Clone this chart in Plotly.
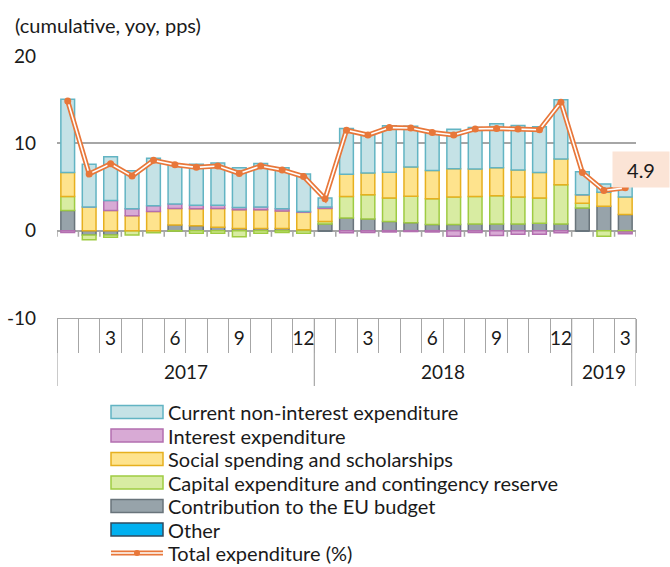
import plotly.graph_objects as go

# ---------------- data ----------------
years = ["2017"] * 12 + ["2018"] * 12 + ["2019"] * 3
months = list(range(1, 13)) + list(range(1, 13)) + [1, 2, 3]

current = [8.4, 4.9, 5.0, 4.35, 5.45, 4.5, 4.7, 4.85, 4.55, 5.0, 4.7, 4.3, 1.05,
           5.25, 4.55, 5.3, 4.65, 4.35, 4.5, 4.75, 5.05, 5.1, 5.25, 6.8, 2.65, 0.95, 1.5]
interest = [-0.2, 0.0, 1.15, 0.8, 0.65, 0.5, 0.4, 0.35, 0.25, 0.3, 0.25, 0.1, 0.15,
            -0.25, -0.2, -0.15, -0.1, -0.15, -0.65, -0.2, -0.55, -0.4, -0.4, -0.25, 0.0, 0.0, -0.2]
social = [2.75, 2.7, 2.3, 1.7, 2.2, 1.9, 1.95, 2.15, 2.15, 2.15, 2.0, 2.0, 1.5,
          2.55, 2.5, 2.95, 3.35, 3.25, 3.25, 3.15, 3.2, 3.1, 2.9, 2.95, 0.95, 1.6, 2.0]
capital = [1.6, -0.55, -0.25, -0.5, -0.25, -0.05, -0.3, -0.3, -0.7, -0.3, -0.2, -0.3, 0.3,
           2.45, 2.75, 2.7, 3.05, 2.95, 3.15, 3.15, 3.25, 3.1, 2.9, 4.5, 0.55, -0.65, -0.15]
eu_budget = [2.3, -0.5, -0.5, 0.0, 0.0, 0.65, 0.55, 0.4, 0.25, 0.25, 0.25, 0.1, 0.75,
             1.45, 1.35, 1.05, 0.9, 0.7, 0.7, 0.75, 0.75, 0.75, 0.85, 0.75, 2.6, 2.8, 1.85]
other = [0.0] * 27
total = [14.85, 6.5, 7.65, 6.25, 8.05, 7.55, 7.25, 7.4, 6.55, 7.4, 6.95, 6.2, 3.65,
         11.5, 10.95, 11.8, 11.75, 11.25, 10.95, 11.65, 11.7, 11.65, 11.55, 14.7, 6.65, 4.6, 4.9]

shown_months = {3, 6, 9, 12}
last_label = "4.9"
y_ticks = [-10, 0, 10, 20]
y_ticktext = ["-10", "0", "10", "20"]

# ---------------- figure ----------------
FONT = "Lato"
TXT = "#1a1a1a"
FS = 19
FS_TXT = 20
x = list(range(len(months)))

# layout geometry (pixels)
W, H = 670, 567
ML, MR, MT, MB = 57, 34, 56, 249
PW, PH = W - ML - MR, H - MT - MB


def px(xp):
    return (xp - ML) / PW


def py(yp):
    return (H - MB - yp) / PH


series = [
    ("Other", other, "#00b0f0", "#2f4b60"),
    ("Contribution to the EU budget", eu_budget, "#97a3aa", "#69747b"),
    ("Capital expenditure and contingency reserve", capital, "#d8eca2", "#9fcb42"),
    ("Social spending and scholarships", social, "#fee38d", "#e6b01f"),
    ("Interest expenditure", interest, "#d8aad5", "#b36fb0"),
    ("Current non-interest expenditure", current, "#c5e2e6", "#62b4c3"),
]
LINE_COL = "#e8773a"

fig = go.Figure()
for name, vals, fill, line in series:
    fig.add_trace(go.Bar(
        x=x, y=vals, name=name,
        marker=dict(color=fill, line=dict(color=line, width=1.5)),
    ))

fig.add_trace(go.Scatter(
    x=x, y=total, name="Total expenditure (%)", mode="lines",
    line=dict(color=LINE_COL, width=5),
))
fig.add_trace(go.Scatter(
    x=x, y=total, mode="lines", hoverinfo="skip",
    line=dict(color="white", width=1.6),
))
fig.add_trace(go.Scatter(
    x=x, y=total, mode="markers", hoverinfo="skip",
    marker=dict(color=LINE_COL, size=7),
))

n = len(x)
shapes = []
# small tick marks under the zero line at category boundaries
for b in range(n + 1):
    shapes.append(dict(type="line", xref="x", yref="y", x0=b - 0.5, x1=b - 0.5,
                       y0=0, y1=-0.7, line=dict(color="#a6a6a6", width=1.5)))
# year dividers in the category table
year_bounds = [-0.5]
for i in range(1, n):
    if years[i] != years[i - 1]:
        year_bounds.append(i - 0.5)
year_bounds.append(n - 0.5)
for b in year_bounds:
    shapes.append(dict(type="line", xref="x", yref="paper", x0=b, x1=b,
                       y0=0, y1=py(386), line=dict(color="#a6a6a6", width=1.2)))

annotations = []
for k in range(len(year_bounds) - 1):
    annotations.append(dict(x=(year_bounds[k] + year_bounds[k + 1]) / 2, y=py(371),
                            xref="x", yref="paper", yanchor="middle",
                            text=years[int(year_bounds[k] + 0.5)],
                            showarrow=False, font=dict(family=FONT, size=FS, color=TXT)))
annotations.append(dict(x=px(13), y=py(25), xref="paper", yref="paper", xanchor="left",
                        yanchor="middle", text="(cumulative, yoy, pps)",
                        showarrow=False, font=dict(family=FONT, size=FS_TXT, color=TXT)))
annotations.append(dict(x=px(640.5), y=py(169), xref="paper", yref="paper",
                        xanchor="center", yanchor="middle",
                        text=last_label, showarrow=False, bgcolor="#fbe4d6",
                        width=54, height=33, font=dict(family=FONT, size=20, color=TXT)))

# manual legend (wide swatches like the original)
legend_items = [(s[0], s[2], s[3]) for s in reversed(series)]
row_y = [412 + 23.5 * k for k in range(len(legend_items) + 1)]
for k, (name, fill, line) in enumerate(legend_items):
    yc = row_y[k]
    shapes.append(dict(type="rect", xref="paper", yref="paper",
                       x0=px(111), x1=px(163), y0=py(yc - 6.5), y1=py(yc + 6.5),
                       fillcolor=fill, line=dict(color=line, width=1.5)))
    annotations.append(dict(x=px(166), y=py(yc), xref="paper", yref="paper",
                            xanchor="left", yanchor="middle", text=name, showarrow=False,
                            font=dict(family=FONT, size=FS_TXT, color=TXT)))
yc = row_y[-1]
shapes.append(dict(type="line", xref="paper", yref="paper", x0=px(111), x1=px(163),
                   y0=py(yc), y1=py(yc), line=dict(color=LINE_COL, width=5)))
shapes.append(dict(type="line", xref="paper", yref="paper", x0=px(111), x1=px(163),
                   y0=py(yc), y1=py(yc), line=dict(color="white", width=1.6)))
shapes.append(dict(type="circle", xref="paper", yref="paper", x0=px(134), x1=px(140),
                   y0=py(yc + 3), y1=py(yc - 3), fillcolor=LINE_COL,
                   line=dict(color=LINE_COL, width=0)))
annotations.append(dict(x=px(166), y=py(yc), xref="paper", yref="paper",
                        xanchor="left", yanchor="middle", text="Total expenditure (%)",
                        showarrow=False, font=dict(family=FONT, size=FS_TXT, color=TXT)))

tickvals = [i for i in x if months[i] in shown_months]
ticktext = [str(months[i]) for i in tickvals]

fig.update_layout(
    width=W, height=H,
    margin=dict(l=ML, r=MR, t=MT, b=MB, autoexpand=False),
    paper_bgcolor="white", plot_bgcolor="white",
    barmode="relative", bargap=0.36,
    font=dict(family=FONT, size=FS, color=TXT),
    showlegend=False,
    xaxis=dict(range=[-0.5, n - 0.5], showgrid=False, zeroline=False,
               showline=True, linecolor="#a6a6a6", linewidth=1.2,
               tickmode="array", tickvals=tickvals, ticktext=ticktext, ticks="",
               ticklabelstandoff=3,
               minor=dict(ticks="outside", ticklen=34, tick0=-0.5, dtick=1,
                          tickcolor="#a6a6a6", tickwidth=1.2, showgrid=False),
               tickfont=dict(family=FONT, size=FS, color=TXT), fixedrange=True),
    yaxis=dict(range=[-10, 20], tickmode="array", tickvals=y_ticks, ticktext=y_ticktext,
               showgrid=True, gridcolor="#a6a6a6", gridwidth=1.5, zeroline=True,
               zerolinecolor="#a6a6a6", zerolinewidth=1.5, showline=False,
               ticklabelstandoff=20, tickfont=dict(family=FONT, size=FS, color=TXT),
               fixedrange=True),
    shapes=shapes, annotations=annotations,
)

fig.write_html("out.html")
